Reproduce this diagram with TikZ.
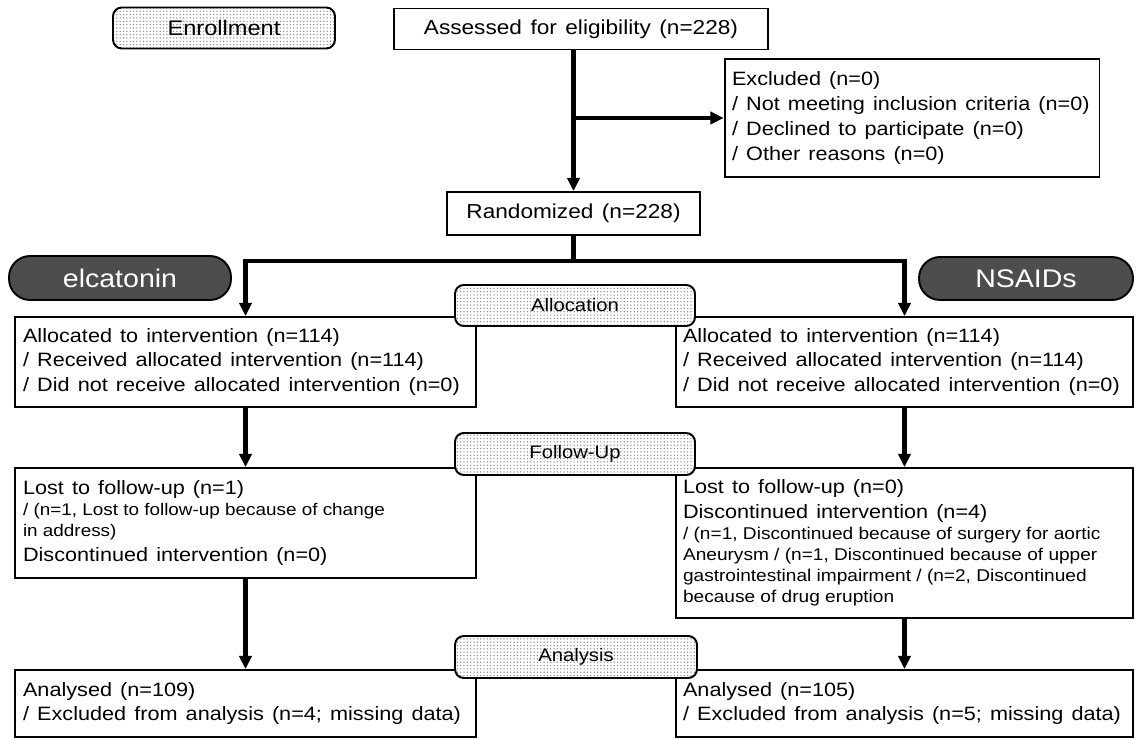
\documentclass[tikz,border=0pt]{standalone}
\usepackage{fontspec}
\setmainfont{Liberation Sans}[FakeStretch=1.12]
\usepackage{tikz}
\usetikzlibrary{arrows.meta,patterns.meta}
\definecolor{pillgray}{RGB}{77,77,77}
\newcommand\smallfnt{\fontsize{9.6}{12}\selectfont}
\newcommand\widesp{\spaceskip=0.42em plus 0.1em\relax}

\begin{document}
\begin{tikzpicture}[
  x=0.02cm, y=-0.02cm,
  box/.style={draw, line width=1.1pt, align=left, inner xsep=4pt, font=\fontsize{11}{13.9}\selectfont,
    execute at begin node=\widesp},
  stage/.style={draw, line width=1.1pt, rounded corners=5pt, preaction={fill=white},
    pattern={Dots[distance=1.9pt,radius=0.42pt]}, pattern color=gray!90,
    font=\fontsize{10.3}{12}\selectfont, text=black},
  arm/.style={draw=black, line width=1.1pt, fill=pillgray, text=white, rounded corners=12pt,
    font=\fontsize{14.5}{16}\selectfont},
  arr/.style={line width=2.3pt, -{Triangle[length=7.5pt,width=7pt]}},
  link/.style={line width=2.3pt},
]
\useasboundingbox (0,0) rectangle (1137,739);

% top part
\node[stage, minimum width=4.44cm, minimum height=0.82cm, font=\fontsize{12}{14}\selectfont] (enroll) at (224,28) {Enrollment};
\node[box, align=center, minimum width=7.48cm, minimum height=0.82cm, font=\fontsize{11.5}{13}\selectfont] (assess) at (581,29) {Assessed for eligibility (n=228)};
\node[box, text width=7.2cm, minimum width=7.5cm, minimum height=2.36cm, font=\fontsize{11}{14.2}\selectfont] (excl) at (912,118)
  {Excluded (n=0)\\/ Not meeting inclusion criteria (n=0)\\/ Declined to participate (n=0)\\/ Other reasons (n=0)};
\node[box, align=center, minimum width=5.06cm, minimum height=0.86cm, font=\fontsize{11.5}{13}\selectfont] (rand) at (573.5,213.5) {Randomized (n=228)};
\coordinate (split) at (573.5,261);

% arms
\node[arm, minimum width=4.44cm, minimum height=0.88cm] (elc) at (120,278) {elcatonin};
\node[arm, minimum width=4.28cm, minimum height=0.86cm] (nsaid) at (1026,278.5) {NSAIDs};

% allocation
\node[box, text width=8.9cm, minimum width=9.22cm, minimum height=1.8cm] (allocL) at (245.5,362)
  {Allocated to intervention (n=114)\\/ Received allocated intervention (n=114)\\/ Did not receive allocated intervention (n=0)};
\node[box, text width=8.86cm, minimum width=9.14cm, minimum height=1.8cm] (allocR) at (904.5,362)
  {Allocated to intervention (n=114)\\/ Received allocated intervention (n=114)\\/ Did not receive allocated intervention (n=0)};

% follow-up
\node[box, text width=8.9cm, minimum width=9.22cm, minimum height=2.2cm] (fupL) at (245.5,523)
  {Lost to follow-up (n=1)\par{\smallfnt\spaceskip=0pt / (n=1, Lost to follow-up because of change\\in address)\par}Discontinued intervention (n=0)};
\node[box, text width=8.86cm, minimum width=9.14cm, minimum height=3.0cm] (fupR) at (904.5,543)
  {Lost to follow-up (n=0)\\Discontinued intervention (n=4)\par{\fontsize{9.7}{12}\selectfont\spaceskip=0pt / (n=1, Discontinued because of surgery for aortic\\Aneurysm / (n=1, Discontinued because of upper\\gastrointestinal impairment / (n=2, Discontinued\\because of drug eruption\par}};

% analysis
\node[box, text width=8.9cm, minimum width=9.22cm, minimum height=1.34cm] (anaL) at (245.5,703.5)
  {Analysed (n=109)\\/ Excluded from analysis (n=4; missing data)};
\node[box, text width=8.86cm, minimum width=9.14cm, minimum height=1.34cm] (anaR) at (904.5,703.5)
  {Analysed (n=105)\\/ Excluded from analysis (n=5; missing data)};

% connectors
\draw[arr] (assess.south -| rand.north) -- (rand.north);
\draw[arr] (rand.north |- excl.west) -- (excl.west);
\draw[link] (rand.south) -- (split);
\draw[arr] (split) -| (allocL.north);
\draw[arr] (split) -| (allocR.north);
\draw[arr] (allocL) -- (fupL);
\draw[arr] (allocR) -- (fupR);
\draw[arr] (fupL) -- (anaL);
\draw[arr] (fupR) -- (anaR);

% stage labels on top
\node[stage, minimum width=4.8cm, minimum height=0.82cm] (allocation) at (575,305.5) {Allocation};
\node[stage, minimum width=4.8cm, minimum height=0.84cm] (followup) at (575,454) {Follow-Up};
\node[stage, minimum width=4.84cm, minimum height=0.84cm] (analysis) at (576,657) {Analysis};
\end{tikzpicture}
\end{document}
